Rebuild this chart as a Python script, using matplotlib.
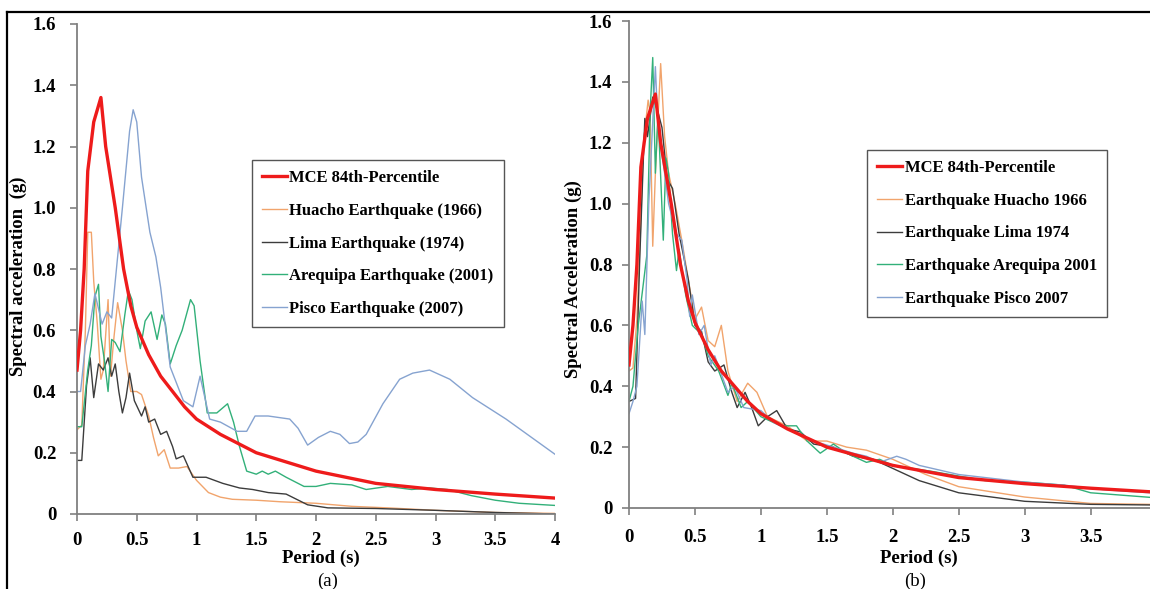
import matplotlib
matplotlib.use('Agg')
import matplotlib.pyplot as plt
from matplotlib.lines import Line2D

plt.rcParams['font.family'] = 'Liberation Serif'
plt.rcParams['font.weight'] = 'bold'

# ---- panel (a): scaled records vs MCE ----
mce_t = [0, 0.03, 0.06, 0.09, 0.14, 0.2, 0.24, 0.32, 0.39, 0.45,
         0.5, 0.6, 0.7, 0.8, 0.9, 1.0, 1.2, 1.5, 2.0, 2.5, 3.0, 3.5, 4.0]
mce_sa = [0.47, 0.6, 0.8, 1.12, 1.28, 1.36, 1.2, 1.0, 0.8, 0.68,
          0.61, 0.52, 0.45, 0.40, 0.35, 0.31, 0.26, 0.2, 0.14, 0.1, 0.08, 0.065, 0.052]

huacho_t = [0, 0.04, 0.07, 0.09, 0.12, 0.14, 0.17, 0.2, 0.22, 0.26,
            0.28, 0.31, 0.34, 0.38, 0.41, 0.45, 0.5, 0.54, 0.6, 0.64,
            0.68, 0.73, 0.78, 0.85, 0.92, 1.0, 1.1, 1.2, 1.3, 1.5,
            1.7, 2.0, 2.3, 2.6, 3.0, 3.5, 4.0]
huacho_sa = [0.275, 0.29, 0.6, 0.92, 0.92, 0.76, 0.62, 0.44, 0.47, 0.7,
             0.45, 0.58, 0.69, 0.6, 0.5, 0.4, 0.4, 0.39, 0.32, 0.25,
             0.19, 0.21, 0.15, 0.15, 0.155, 0.11, 0.07, 0.055, 0.048, 0.045,
             0.04, 0.035, 0.025, 0.02, 0.012, 0.005, 0.002]

lima_t = [0, 0.04, 0.08, 0.11, 0.14, 0.18, 0.22, 0.26, 0.29, 0.32,
          0.35, 0.38, 0.41, 0.44, 0.48, 0.54, 0.57, 0.6, 0.65, 0.7,
          0.75, 0.8, 0.83, 0.89, 0.97, 1.08, 1.22, 1.36, 1.47, 1.6,
          1.75, 1.93, 2.1, 2.5, 3.0, 3.5, 4.0]
lima_sa = [0.175, 0.175, 0.42, 0.51, 0.38, 0.49, 0.47, 0.51, 0.45, 0.49,
           0.4, 0.33, 0.38, 0.46, 0.37, 0.32, 0.35, 0.3, 0.31, 0.26,
           0.27, 0.22, 0.18, 0.19, 0.12, 0.12, 0.1, 0.085, 0.08, 0.07,
           0.065, 0.03, 0.02, 0.018, 0.012, 0.005, 0.0]

areq_t = [0, 0.04, 0.09, 0.12, 0.15, 0.18, 0.2, 0.23, 0.26, 0.29,
          0.32, 0.36, 0.4, 0.43, 0.46, 0.5, 0.53, 0.57, 0.62, 0.67,
          0.71, 0.74, 0.78, 0.83, 0.88, 0.95, 0.98, 1.03, 1.09, 1.17,
          1.26, 1.31, 1.36, 1.42, 1.5, 1.55, 1.6, 1.66, 1.75, 1.9,
          2.0, 2.12, 2.3, 2.42, 2.6, 2.8, 2.95, 3.1, 3.3, 3.5,
          3.7, 4.0]
areq_sa = [0.285, 0.285, 0.47, 0.55, 0.71, 0.75, 0.58, 0.5, 0.4, 0.57,
           0.56, 0.53, 0.65, 0.73, 0.7, 0.6, 0.54, 0.63, 0.66, 0.57,
           0.65, 0.62, 0.49, 0.55, 0.6, 0.7, 0.68, 0.5, 0.33, 0.33,
           0.36, 0.3, 0.22, 0.14, 0.13, 0.14, 0.13, 0.14, 0.12, 0.09,
           0.09, 0.1, 0.095, 0.08, 0.09, 0.08, 0.085, 0.08, 0.06, 0.045,
           0.035, 0.028]

pisco_t = [0, 0.03, 0.07, 0.11, 0.15, 0.21, 0.25, 0.29, 0.32, 0.38,
           0.44, 0.47, 0.5, 0.54, 0.61, 0.66, 0.7, 0.78, 0.89, 0.97,
           1.03, 1.11, 1.2, 1.34, 1.42, 1.49, 1.6, 1.78, 1.85, 1.93,
           2.02, 2.12, 2.2, 2.28, 2.35, 2.42, 2.56, 2.7, 2.81, 2.95,
           3.12, 3.31, 3.59, 4.0]
pisco_sa = [0.4, 0.4, 0.55, 0.62, 0.72, 0.62, 0.66, 0.64, 0.76, 1.0,
            1.25, 1.32, 1.28, 1.1, 0.92, 0.84, 0.74, 0.48, 0.37, 0.35,
            0.45, 0.31, 0.3, 0.27, 0.27, 0.32, 0.32, 0.31, 0.28, 0.225,
            0.25, 0.27, 0.26, 0.23, 0.235, 0.26, 0.36, 0.44, 0.46, 0.47,
            0.44, 0.38, 0.31, 0.195]

# ---- panel (b): spectrally matched records ----
rh_t = [0, 0.03, 0.06, 0.09, 0.11, 0.145, 0.16, 0.18, 0.2, 0.24,
        0.27, 0.3, 0.35, 0.4, 0.45, 0.5, 0.55, 0.6, 0.65, 0.7,
        0.75, 0.82, 0.9, 0.97, 1.05, 1.2, 1.35, 1.5, 1.65, 1.8,
        2.0, 2.25, 2.5, 3.0, 3.5, 3.95]
rh_sa = [0.45, 0.46, 0.62, 0.95, 1.2, 1.34, 1.3, 0.86, 1.1, 1.46,
         1.22, 1.1, 1.0, 0.88, 0.75, 0.62, 0.66, 0.55, 0.53, 0.6,
         0.45, 0.35, 0.41, 0.38, 0.3, 0.27, 0.22, 0.22, 0.2, 0.19,
         0.16, 0.11, 0.07, 0.036, 0.015, 0.012]

rl_t = [0, 0.05, 0.08, 0.12, 0.14, 0.18, 0.22, 0.25, 0.29, 0.33,
        0.38, 0.45, 0.5, 0.55, 0.6, 0.65, 0.72, 0.78, 0.82, 0.88,
        0.93, 0.98, 1.05, 1.12, 1.2, 1.3, 1.4, 1.55, 1.7, 1.85,
        2.0, 2.2, 2.5, 3.0, 3.5, 3.95]
rl_sa = [0.35, 0.36, 0.8, 1.28, 1.22, 1.35, 1.3, 1.25, 1.08, 1.05,
         0.9, 0.75, 0.6, 0.58, 0.48, 0.45, 0.47, 0.38, 0.33, 0.38,
         0.33, 0.27, 0.3, 0.32, 0.26, 0.25, 0.21, 0.2, 0.17, 0.16,
         0.13, 0.09, 0.05, 0.022, 0.012, 0.01]

ra_t = [0, 0.03, 0.07, 0.135, 0.16, 0.18, 0.2, 0.22, 0.26, 0.28,
        0.3, 0.33, 0.36, 0.38, 0.43, 0.48, 0.55, 0.6, 0.68, 0.75,
        0.78, 0.85, 0.9, 1.0, 1.05, 1.15, 1.27, 1.35, 1.45, 1.55,
        1.65, 1.8, 1.9, 2.0, 2.3, 2.7, 3.0, 3.3, 3.5, 3.95]
ra_sa = [0.35, 0.4, 0.6, 0.83, 1.3, 1.48, 1.1, 1.3, 0.88, 1.15,
         1.1, 0.9, 0.78, 0.85, 0.7, 0.6, 0.57, 0.5, 0.45, 0.37,
         0.41, 0.33, 0.35, 0.3, 0.29, 0.27, 0.27, 0.22, 0.18, 0.21,
         0.18, 0.15, 0.16, 0.14, 0.12, 0.09, 0.085, 0.075, 0.05, 0.035]

rp_t = [0, 0.03, 0.06, 0.1, 0.12, 0.15, 0.2, 0.22, 0.27, 0.3,
        0.36, 0.4, 0.44, 0.46, 0.48, 0.53, 0.57, 0.62, 0.65, 0.75,
        0.8, 0.87, 1.0, 1.1, 1.25, 1.4, 1.55, 1.7, 1.8, 1.9,
        2.03, 2.1, 2.2, 2.5, 2.8, 3.0, 3.3, 3.6, 3.95]
rp_sa = [0.31, 0.35, 0.4, 0.68, 0.57, 1.0, 1.45, 1.25, 1.1, 1.0,
         0.9, 0.88, 0.75, 0.63, 0.7, 0.57, 0.6, 0.47, 0.5, 0.38,
         0.4, 0.33, 0.32, 0.28, 0.25, 0.22, 0.2, 0.18, 0.17, 0.15,
         0.17, 0.16, 0.14, 0.11, 0.095, 0.085, 0.075, 0.06, 0.05]

labels_a = ['MCE 84th-Percentile', 'Huacho Earthquake (1966)', 'Lima Earthquake (1974)',
            'Arequipa Earthquake (2001)', 'Pisco Earthquake (2007)']
labels_b = ['MCE 84th-Percentile', 'Earthquake Huacho 1966', 'Earthquake Lima 1974',
            'Earthquake Arequipa 2001', 'Earthquake Pisco 2007']

y_ticks = [0, 0.2, 0.4, 0.6, 0.8, 1.0, 1.2, 1.4, 1.6]
y_ticklabels = ['0', '0.2', '0.4', '0.6', '0.8', '1.0', '1.2', '1.4', '1.6']
x_ticks = [0, 0.5, 1, 1.5, 2, 2.5, 3, 3.5, 4]
x_ticklabels = ['0', '0.5', '1', '1.5', '2', '2.5', '3', '3.5', '4']

c_mce = '#ee1b1b'
c_hua = '#f1a46c'
c_lim = '#3c3c3c'
c_are = '#32b079'
c_pis = '#86a3d0'
spine_c = '#808080'

W, H = 1150, 589
fig = plt.figure(figsize=(W / 100, H / 100), dpi=100)
ax1 = fig.add_axes([77 / W, 75 / H, 478 / W, 490 / H])
ax2 = fig.add_axes([629 / W, 81 / H, 521 / W, 487 / H])

for ax, series, labels in [
    (ax1, [(huacho_t, huacho_sa), (lima_t, lima_sa), (areq_t, areq_sa), (pisco_t, pisco_sa)], labels_a),
    (ax2, [(rh_t, rh_sa), (rl_t, rl_sa), (ra_t, ra_sa), (rp_t, rp_sa)], labels_b),
]:
    cols = [c_hua, c_lim, c_are, c_pis]
    for (t, sa), c, lab in zip(series, cols, labels[1:]):
        ax.plot(t, sa, color=c, lw=1.0, label=lab)
    ax.plot(mce_t, mce_sa, color=c_mce, lw=2.4, label=labels[0], zorder=5)

    ax.set_ylim(0, 1.6)
    ax.set_yticks(y_ticks)
    ax.set_yticklabels(y_ticklabels)
    for s in ['top', 'right']:
        ax.spines[s].set_visible(False)
    for s in ['left', 'bottom']:
        ax.spines[s].set_color(spine_c)
        ax.spines[s].set_linewidth(1.3)
    ax.tick_params(direction='out', length=5, width=1.2, color=spine_c, labelsize=13.5)

    # legend order: MCE first
    h, l = ax.get_legend_handles_labels()
    order = [4, 0, 1, 2, 3]
    leg = ax.legend([h[i] for i in order], [l[i] for i in order],
                    loc='upper left', fancybox=False, framealpha=1, edgecolor='#555555',
                    fontsize=12, handlelength=1.5, handletextpad=0.15,
                    labelspacing=1.0, borderpad=0.6, borderaxespad=0)
    leg.get_frame().set_linewidth(1.0)

ax1.set_xlim(0, 4)
ax1.set_xticks(x_ticks)
ax1.set_xticklabels(x_ticklabels)
ax1.tick_params(axis='y', pad=10)
ax1.tick_params(axis='x', pad=8)
ax1.get_legend().set_bbox_to_anchor((0.366, 0.722))

ax2.set_xlim(0, 3.95)
ax2.set_xticks(x_ticks[:-1])
ax2.set_xticklabels(x_ticklabels[:-1])
ax2.tick_params(axis='y', pad=7)
ax2.tick_params(axis='x', pad=10)
ax2.get_legend().set_bbox_to_anchor((0.457, 0.735))

# axis titles and panel letters
fig.text(18 / W, 1 - 276 / H, 'Spectral acceleration  (g)', rotation=90,
         ha='center', va='center', fontsize=13.5)
fig.text(573 / W, 1 - 279 / H, 'Spectral Acceleration (g)', rotation=90,
         ha='center', va='center', fontsize=13.5)
fig.text(321 / W, 1 - 558 / H, 'Period (s)', ha='center', va='center', fontsize=13.5)
fig.text(919 / W, 1 - 558 / H, 'Period (s)', ha='center', va='center', fontsize=13.5)
fig.text(328 / W, 1 - 581 / H, '(a)', ha='center', va='center', fontsize=13.5, fontweight='normal')
fig.text(915 / W, 1 - 581 / H, '(b)', ha='center', va='center', fontsize=13.5, fontweight='normal')

# outer frame (top and left edge of the figure box)
fig.add_artist(Line2D([7 / W, 1], [1 - 12 / H, 1 - 12 / H], color='black', lw=1.6))
fig.add_artist(Line2D([7 / W, 7 / W], [0, 1 - 12 / H], color='black', lw=1.6))

fig.savefig('out.png', dpi=100)
